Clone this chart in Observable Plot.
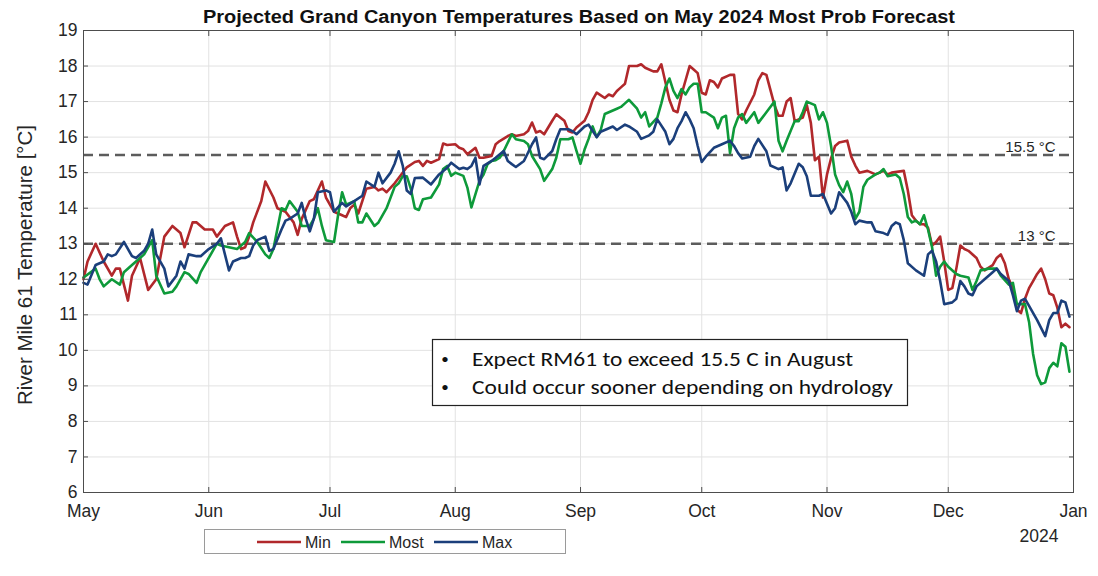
<!DOCTYPE html>
<html>
<head>
<meta charset="utf-8">
<script src="https://cdn.jsdelivr.net/npm/d3@7"></script>
<script src="https://cdn.jsdelivr.net/npm/@observablehq/plot@0.6"></script>
<style>
  body { margin: 0; background: #fff; }
  #wrap { position: relative; width: 1098px; height: 576px; overflow: hidden; background: #fff; }
  #chart { position: absolute; left: 0; top: 0; }
  #overlay { position: absolute; left: 0; top: 0; pointer-events: none; }
</style>
</head>
<body>
<div id="wrap">
  <div id="chart"></div>
  <svg id="overlay" width="1098" height="576"></svg>
</div>
<script>
// ---------- data (day offset from 1 May, temperature °C) ----------
const startDate = "2024-05-01";
const endDate = "2025-01-01";
const titleText = "Projected Grand Canyon Temperatures Based on May 2024 Most Prob Forecast";
const yLabel = "River Mile 61 Temperature [°C]";
const monthLabels = ["May", "Jun", "Jul", "Aug", "Sep", "Oct", "Nov", "Dec", "Jan"];
const yearLabel = "2024";
const yTickValues = [6, 7, 8, 9, 10, 11, 12, 13, 14, 15, 16, 17, 18, 19];
const thresholds = [15.5, 13];
const thresholdLabels = ["15.5 °C", "13 °C"];
const seriesNames = ["Min", "Most", "Max"];
const seriesColors = ["#b1282b", "#0e9a3a", "#1b3f7b"];
const noteLines = ["Expect RM61 to exceed 15.5 C in August", "Could occur sooner depending on hydrology"];

const minSeries = [[0,12.0],[1,12.5],[3,13.0],[5,12.5],[7,12.1],[8,12.3],[9,12.3],[11,11.4],[12,12.1],[14,12.6],[16,11.7],[18,12.0],[20,13.2],[22,13.5],[24,13.3],[25,12.9],[27,13.6],[28,13.6],[30,13.4],[32,13.4],[33,13.2],[35,13.5],[37,13.6],[38,13.2],[39,12.85],[40,12.9],[41,13.2],[42,13.6],[44,14.2],[45,14.75],[47,14.3],[48,14.0],[49,13.95],[50,13.9],[52,13.6],[53,13.25],[54,13.7],[56,14.2],[57,14.25],[59,14.75],[60,14.3],[62,13.9],[64,13.8],[65,13.75],[66,14.0],[67,14.1],[68,13.85],[70,14.55],[72,14.6],[73,14.5],[74,14.55],[75,14.45],[77,14.7],[78,14.85],[80,15.15],[82,15.3],[83,15.33],[84,15.19],[85,15.33],[86,15.28],[88,15.38],[89,15.82],[90,15.78],[92,15.8],[93,15.7],[94,15.66],[95,15.52],[96,15.61],[97,15.7],[98,15.42],[99,15.42],[101,15.47],[102,15.8],[103,15.89],[105,16.03],[106,16.08],[107,16.03],[109,16.08],[110,16.17],[111,16.41],[112,16.13],[113,16.17],[114,16.08],[116,16.46],[117,16.64],[119,16.46],[120,16.17],[121,16.13],[122,16.27],[124,16.46],[125,16.7],[126,17.05],[127,17.25],[129,17.1],[130,17.2],[131,17.15],[132,17.3],[133,17.4],[134,17.5],[135,18.0],[137,18.0],[138,18.05],[139,17.95],[141,17.85],[142,17.85],[143,18.05],[144,17.55],[145,17.05],[146,16.75],[147,16.7],[148,17.2],[149,17.6],[150,18.0],[151,17.9],[152,17.8],[153,17.25],[154,17.2],[155,17.6],[156,17.55],[157,17.4],[158,17.65],[160,17.75],[161,17.75],[162,16.65],[163,16.5],[164,16.75],[166,17.2],[167,17.6],[168,17.8],[169,17.75],[171,16.9],[172,16.6],[173,16.6],[174,17.0],[175,17.1],[176,16.45],[178,16.55],[179,16.9],[180,16.4],[181,15.35],[182,15.45],[183,14.3],[184,14.95],[185,15.4],[186,15.75],[187,15.85],[189,15.9],[190,15.45],[191,15.2],[192,15.0],[194,15.05],[195,15.0],[196,14.95],[198,15.05],[199,14.95],[200,15.0],[203,15.05],[204,14.5],[205,13.8],[206,13.65],[207,13.55],[208,13.55],[209,13.45],[210,12.95],[211,13.05],[212,13.2],[213,12.5],[214,11.7],[215,11.75],[216,12.3],[217,12.95],[218,12.85],[219,12.8],[221,12.6],[222,12.35],[223,12.25],[225,12.4],[226,12.6],[227,12.7],[228,12.45],[229,12.0],[230,11.75],[231,11.15],[232,11.05],[233,11.45],[234,11.75],[235,11.95],[236,12.15],[237,12.3],[238,12.0],[239,11.6],[240,11.55],[241,11.2],[242,10.65],[243,10.75],[244,10.65]];

const mostSeries = [[0,12.05],[3,12.3],[4,12.0],[5,11.8],[7,12.0],[9,11.85],[10,12.2],[12,12.4],[14,12.6],[15,12.7],[17,13.1],[18,12.1],[20,11.6],[22,11.65],[23,11.8],[25,12.2],[26,12.15],[28,11.9],[29,12.2],[31,12.6],[33,13.0],[34,12.95],[36,12.9],[38,12.85],[40,13.05],[41,13.3],[43,13.05],[45,12.7],[46,12.6],[47,12.85],[49,14.0],[50,13.95],[51,14.2],[53,13.9],[54,13.5],[56,13.5],[57,13.7],[58,14.0],[59,13.5],[60,13.1],[62,13.05],[63,13.8],[64,14.45],[65,14.1],[67,14.2],[68,13.6],[69,13.6],[70,13.85],[72,13.5],[73,13.6],[75,14.0],[77,14.6],[78,14.7],[79,14.9],[80,14.9],[81,14.55],[82,14.0],[83,13.95],[84,14.25],[86,14.3],[88,14.67],[89,15.1],[90,15.19],[91,14.91],[92,15.0],[94,14.91],[95,14.58],[96,14.02],[98,14.77],[99,14.95],[100,15.24],[101,15.33],[102,15.35],[103,15.42],[104,15.61],[106,16.08],[107,15.94],[109,15.89],[110,15.8],[111,15.47],[113,15.1],[114,14.77],[116,15.1],[117,15.42],[118,15.94],[120,15.94],[121,15.99],[122,15.61],[123,15.25],[124,15.65],[125,15.95],[126,16.3],[127,16.0],[128,16.2],[129,16.65],[131,16.75],[132,16.8],[133,16.85],[134,16.95],[135,17.05],[137,16.8],[138,16.55],[139,16.7],[140,16.3],[142,16.55],[143,16.95],[144,17.4],[145,17.65],[146,17.3],[147,17.1],[148,17.35],[149,17.2],[150,17.4],[151,17.5],[152,17.5],[153,16.7],[154,16.7],[156,16.55],[157,16.25],[158,16.55],[159,16.6],[160,15.55],[161,16.25],[162,16.55],[163,16.65],[164,16.4],[166,16.7],[167,16.4],[169,16.7],[171,17.0],[172,15.9],[173,15.6],[174,15.9],[176,16.45],[177,16.45],[178,16.7],[179,17.0],[181,16.9],[182,16.5],[183,16.7],[184,16.4],[185,15.75],[186,14.95],[187,14.65],[188,14.45],[189,14.75],[190,14.4],[191,13.7],[192,13.9],[193,14.6],[194,14.8],[196,14.95],[197,15.0],[198,15.1],[199,14.9],[201,14.95],[202,14.85],[203,14.4],[204,13.75],[205,13.6],[206,13.65],[207,13.55],[208,13.8],[209,13.4],[210,12.9],[211,12.1],[212,12.35],[213,12.5],[214,12.35],[216,12.15],[217,12.1],[219,12.05],[220,11.7],[221,11.95],[222,12.25],[224,12.3],[226,12.3],[227,12.1],[229,11.85],[230,11.9],[231,11.3],[233,11.3],[234,10.8],[235,9.9],[236,9.3],[237,9.05],[238,9.1],[239,9.5],[240,9.65],[241,9.55],[242,10.2],[243,10.1],[244,9.4]];

const maxSeries = [[0,11.9],[1,11.85],[3,12.4],[5,12.5],[6,12.7],[7,12.65],[8,12.7],[10,13.05],[12,12.65],[13,12.6],[15,12.8],[16,13.0],[17,13.4],[18,12.7],[20,12.3],[21,11.8],[23,12.1],[24,12.5],[25,12.3],[26,12.7],[28,12.65],[29,12.65],[31,12.85],[33,13.0],[34,13.15],[36,12.25],[37,12.5],[39,12.6],[40,12.6],[41,12.65],[42,12.95],[43,13.1],[45,13.2],[46,12.8],[47,12.85],[49,13.4],[50,13.65],[51,13.7],[53,13.85],[54,14.15],[55,13.7],[56,13.35],[57,13.7],[58,14.45],[60,14.5],[61,14.45],[62,13.9],[64,14.15],[65,14.05],[67,14.2],[69,14.35],[70,14.75],[72,14.6],[73,15.0],[74,14.7],[76,15.0],[77,15.25],[78,15.6],[79,15.2],[80,14.5],[81,14.4],[82,14.85],[84,14.86],[86,14.67],[88,14.95],[90,15.14],[91,15.28],[93,15.1],[94,15.14],[95,15.1],[96,15.19],[97,15.42],[98,14.67],[99,15.19],[101,15.33],[102,15.42],[104,15.61],[105,15.33],[106,15.24],[107,15.16],[109,15.33],[110,15.56],[111,15.8],[112,15.99],[113,15.42],[114,15.38],[116,15.61],[117,15.94],[118,16.22],[120,16.22],[121,16.17],[122,16.08],[124,16.3],[125,16.35],[127,16.0],[128,16.15],[130,16.25],[131,16.3],[132,16.2],[134,16.35],[135,16.3],[137,16.15],[138,15.95],[140,16.05],[141,16.15],[142,16.5],[144,16.15],[145,15.8],[146,15.95],[147,16.25],[148,16.45],[149,16.7],[150,16.5],[151,16.25],[152,15.75],[153,15.3],[154,15.45],[156,15.7],[157,15.75],[158,15.8],[160,15.9],[161,15.75],[162,15.55],[163,15.4],[165,15.45],[166,15.75],[167,15.95],[169,15.6],[170,15.2],[172,15.1],[173,15.15],[174,14.5],[175,14.7],[177,15.25],[178,15.15],[179,14.9],[180,14.35],[182,14.35],[183,14.4],[185,13.85],[186,14.0],[187,14.45],[189,14.15],[190,13.9],[191,13.55],[192,13.65],[194,13.6],[195,13.6],[196,13.35],[198,13.3],[199,13.25],[200,13.5],[201,13.6],[202,13.55],[203,13.1],[204,12.45],[206,12.25],[208,12.1],[209,12.7],[210,12.8],[211,12.5],[212,11.95],[213,11.3],[215,11.35],[216,11.45],[217,11.95],[218,11.8],[219,11.6],[220,11.55],[221,11.8],[223,12.0],[225,12.2],[226,12.3],[227,12.15],[229,11.95],[230,11.55],[231,11.1],[232,11.4],[233,11.45],[234,11.25],[236,10.85],[238,10.4],[239,10.85],[240,11.05],[241,11.05],[242,11.4],[243,11.35],[244,10.95]];

// ---------- build table ----------
const start = new Date(startDate + "T00:00:00Z");
const end = new Date(endDate + "T00:00:00Z");
const dayMs = 864e5;
const rows = [];
[minSeries, mostSeries, maxSeries].forEach((arr, i) => {
  for (const [d, v] of arr) rows.push({series: seriesNames[i], date: new Date(start.getTime() + d * dayMs), temp: v});
});
const monthTicks = d3.utcMonth.range(start, new Date(end.getTime() + dayMs));
const monthFmt = d => monthLabels[monthTicks.findIndex(t => +t === +d)] ?? "";
const thr = thresholds.map((v, i) => ({v, label: thresholdLabels[i]}));

const font = "'Liberation Sans', Arial, Helvetica, sans-serif";
const axisColor = "#262626";

const chart = Plot.plot({
  width: 1098,
  height: 576,
  marginTop: 30,
  marginBottom: 84,
  marginLeft: 83,
  marginRight: 25,
  style: {fontFamily: font, fontSize: "17.5px", color: axisColor, background: "white", overflow: "visible"},
  x: {type: "utc", domain: [start, end]},
  y: {domain: [6, 19]},
  color: {domain: seriesNames, range: seriesColors},
  marks: [
    Plot.gridX(monthTicks, {stroke: "#e2e2e2", strokeOpacity: 1, strokeWidth: 1}),
    Plot.gridY(yTickValues, {stroke: "#e2e2e2", strokeOpacity: 1, strokeWidth: 1}),
    Plot.ruleY(thr, {y: "v", stroke: "#5c5c5c", strokeWidth: 2.5, strokeDasharray: "10,6"}),
    Plot.text(thr, {y: "v", text: "label", frameAnchor: "right", dx: -18, dy: -3, textAnchor: "end", lineAnchor: "bottom", fontSize: 15, fill: axisColor}),
    Plot.line(rows, {x: "date", y: "temp", z: "series", stroke: "series", strokeWidth: 2.6, strokeLinejoin: "round"}),
    Plot.frame({stroke: "#4d4d4d", strokeWidth: 1}),
    Plot.axisY(yTickValues, {anchor: "left", tickSize: -5, tickPadding: 11, label: null, stroke: "#4d4d4d"}),
    Plot.axisY(yTickValues, {anchor: "right", tickSize: -5, tickFormat: () => "", label: null, stroke: "#4d4d4d"}),
    Plot.axisX(monthTicks, {anchor: "bottom", tickSize: -5, tickPadding: 17, tickFormat: monthFmt, label: null, stroke: "#4d4d4d"}),
    Plot.axisX(monthTicks, {anchor: "top", tickSize: -5, tickFormat: () => "", label: null, stroke: "#4d4d4d"})
  ]
});
document.getElementById("chart").appendChild(chart);

// ---------- overlay: title, y label, year, note box, legend ----------
const ov = d3.select("#overlay");
ov.append("text")
  .attr("x", 579).attr("y", 23)
  .attr("text-anchor", "middle")
  .attr("font-family", font).attr("font-weight", "bold").attr("font-size", 17.5)
  .attr("fill", "#111")
  .attr("textLength", 752).attr("lengthAdjust", "spacingAndGlyphs")
  .text(titleText);

ov.append("text")
  .attr("transform", "translate(32,265) rotate(-90)")
  .attr("text-anchor", "middle")
  .attr("font-family", font).attr("font-size", 20.5)
  .attr("fill", axisColor)
  .text(yLabel);

ov.append("text")
  .attr("x", 1039).attr("y", 542)
  .attr("text-anchor", "middle")
  .attr("font-family", font).attr("font-size", 17.5)
  .attr("fill", axisColor)
  .text(yearLabel);

// note box
ov.append("rect").attr("x", 432.5).attr("y", 339.5).attr("width", 475).attr("height", 66)
  .attr("fill", "white").attr("stroke", "#222").attr("stroke-width", 1.2);
const noteFont = "Carlito, Lato, 'Open Sans', sans-serif";
const noteWidths = [381, 421];
noteLines.forEach((t, i) => {
  const y = 366 + i * 28;
  ov.append("text").attr("x", 445).attr("y", y - 2).attr("text-anchor", "middle")
    .attr("font-family", noteFont).attr("font-size", 15).attr("fill", "#111").text("•");
  ov.append("text").attr("x", 472).attr("y", y)
    .attr("font-family", noteFont).attr("font-size", 21).attr("fill", "#111")
    .attr("textLength", noteWidths[i]).attr("lengthAdjust", "spacingAndGlyphs")
    .text(t);
});

// legend
ov.append("rect").attr("x", 204.5).attr("y", 529.5).attr("width", 361).attr("height", 24)
  .attr("fill", "white").attr("stroke", "#9a9a9a").attr("stroke-width", 1);
const legX = [257, 341, 434];
seriesNames.forEach((name, i) => {
  ov.append("line").attr("x1", legX[i]).attr("x2", legX[i] + 44).attr("y1", 542).attr("y2", 542)
    .attr("stroke", seriesColors[i]).attr("stroke-width", 2.6);
  ov.append("text").attr("x", legX[i] + 48).attr("y", 548)
    .attr("font-family", font).attr("font-size", 16).attr("fill", axisColor).text(name);
});
</script>
</body>
</html>
